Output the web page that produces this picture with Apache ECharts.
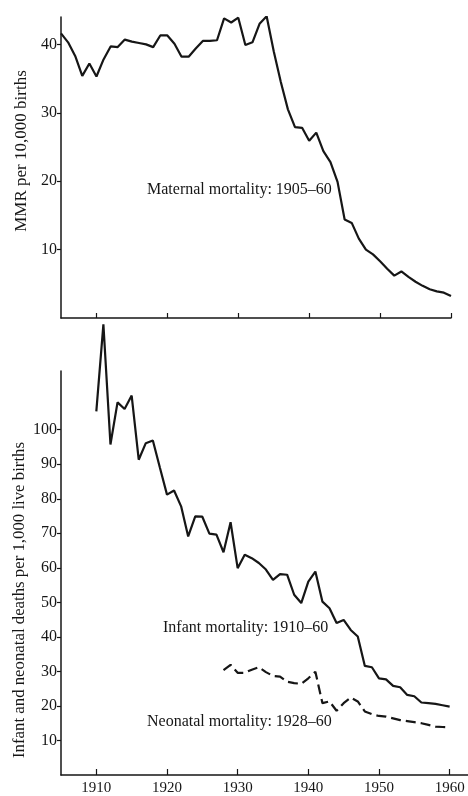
<!DOCTYPE html>
<html>
<head>
<meta charset="utf-8">
<script src="https://cdn.jsdelivr.net/npm/echarts@6/dist/echarts.min.js"></script>
<style>
html, body { margin: 0; padding: 0; background: #fff; }
#chart { width: 468px; height: 796px; }
</style>
</head>
<body>
<div id="chart"></div>
<script>
// 孕产妇死亡率 per 10,000 births, 1905-60
var maternalYears = [1905, 1906, 1907, 1908, 1909, 1910, 1911, 1912, 1913, 1914,
  1915, 1916, 1917, 1918, 1919, 1920, 1921, 1922, 1923, 1924,
  1925, 1926, 1927, 1928, 1929, 1930, 1931, 1932, 1933, 1934,
  1935, 1936, 1937, 1938, 1939, 1940, 1941, 1942, 1943, 1944,
  1945, 1946, 1947, 1948, 1949, 1950, 1951, 1952, 1953, 1954,
  1955, 1956, 1957, 1958, 1959, 1960];
var maternalRate = [41.6, 40.3, 38.3, 35.4, 37.2, 35.3, 37.8, 39.7, 39.6, 40.7,
  40.4, 40.2, 40.0, 39.6, 41.3, 41.3, 40.1, 38.2, 38.2, 39.4,
  40.5, 40.5, 40.6, 43.8, 43.2, 43.9, 39.9, 40.3, 43.0, 44.1,
  39.0, 34.5, 30.5, 27.9, 27.8, 25.9, 27.1, 24.4, 22.8, 19.9,
  14.4, 13.9, 11.6, 10.0, 9.3, 8.3, 7.2, 6.2, 6.8, 6.0,
  5.3, 4.7, 4.2, 3.9, 3.7, 3.2];

// infant deaths per 1,000 live births, 1910-60
var infantYears = [1910, 1911, 1912, 1913, 1914, 1915, 1916, 1917, 1918, 1919,
  1920, 1921, 1922, 1923, 1924, 1925, 1926, 1927, 1928, 1929,
  1930, 1931, 1932, 1933, 1934, 1935, 1936, 1937, 1938, 1939,
  1940, 1941, 1942, 1943, 1944, 1945, 1946, 1947, 1948, 1949,
  1950, 1951, 1952, 1953, 1954, 1955, 1956, 1957, 1958, 1959, 1960];
var infantRate = [105.3, 130.5, 95.7, 107.9, 106.0, 109.9, 91.3, 96.1, 96.9, 89.0,
  81.2, 82.4, 77.8, 69.1, 74.9, 74.8, 69.9, 69.6, 64.5, 73.2,
  59.9, 63.8, 62.8, 61.4, 59.5, 56.5, 58.2, 58.0, 52.2, 49.8,
  56.0, 58.9, 50.2, 48.3, 44.0, 44.9, 42.0, 40.1, 31.6, 31.2,
  28.0, 27.7, 25.8, 25.4, 23.2, 22.8, 21.0, 20.8, 20.6, 20.2, 19.8];

// neonatal deaths per 1,000 live births, 1928-60
var neonatalYears = [1928, 1929, 1930, 1931, 1932, 1933, 1934, 1935, 1936, 1937,
  1938, 1939, 1940, 1941, 1942, 1943, 1944, 1945, 1946, 1947,
  1948, 1949, 1950, 1951, 1952, 1953, 1954, 1955, 1956, 1957,
  1958, 1959, 1960];
var neonatalRate = [30.4, 31.9, 29.6, 29.6, 30.5, 31.2, 29.8, 28.7, 28.5, 27.0,
  26.6, 26.4, 28.0, 29.9, 20.8, 21.3, 18.6, 20.8, 22.4, 21.3,
  18.4, 17.6, 17.1, 16.9, 16.4, 15.9, 15.6, 15.3, 15.0, 14.5,
  14.0, 13.9, 13.8];

var yearTicks = [1910, 1920, 1930, 1940, 1950, 1960];
var mmrTicks = [10, 20, 30, 40];
var infantTicks = [10, 20, 30, 40, 50, 60, 70, 80, 90, 100];

function pairs(xs, ys) {
  return xs.map(function (x, i) { return [x, ys[i]]; });
}

var serif = "'Liberation Serif', 'DejaVu Serif', serif";
var ink = "#161616";

var axisLine = { lineStyle: { color: ink, width: 1.5 } };
function plain(v) { return String(v); } // 不要千分位 1,910

var chart = echarts.init(document.getElementById("chart"));
var option = {
  backgroundColor: "#fff",
  animation: false,
  textStyle: { fontFamily: serif, color: ink },
  grid: [
    { left: 61, right: 17, top: 17, height: 301 },
    { left: 61, right: 0, top: 371, bottom: 21 }
  ],
  xAxis: [
    {
      gridIndex: 0, type: "value", min: 1905, max: 1960,
      axisLine: axisLine,
      axisTick: { inside: true, length: 5, customValues: yearTicks, lineStyle: { color: ink, width: 1.2 } },
      axisLabel: { show: false },
      splitLine: { show: false }
    },
    {
      gridIndex: 1, type: "value", min: 1905, max: 1962.6,
      axisLine: axisLine,
      axisTick: { inside: true, length: 6, customValues: yearTicks, lineStyle: { color: ink, width: 1.2 } },
      axisLabel: { customValues: yearTicks, formatter: plain, fontFamily: serif, fontSize: 15, color: ink, margin: 6 },
      splitLine: { show: false }
    }
  ],
  yAxis: [
    {
      gridIndex: 0, type: "value", min: 0, max: 44,
      axisLine: { show: true, lineStyle: { color: ink, width: 1.5 } },
      axisTick: { show: true, length: 4, customValues: mmrTicks, lineStyle: { color: ink, width: 1.2 } },
      axisLabel: { customValues: mmrTicks, fontFamily: serif, fontSize: 16, color: ink, margin: 4 },
      splitLine: { show: false }
    },
    {
      gridIndex: 1, type: "value", min: 0, max: 117,
      axisLine: { show: true, lineStyle: { color: ink, width: 1.5 } },
      axisTick: { show: true, length: 4, customValues: infantTicks, lineStyle: { color: ink, width: 1.2 } },
      axisLabel: { customValues: infantTicks, fontFamily: serif, fontSize: 16, color: ink, margin: 4 },
      splitLine: { show: false }
    }
  ],
  graphic: [
    { type: "text", x: 22, y: 151, rotation: Math.PI / 2,
      style: { text: "MMR per 10,000 births", font: "17px " + serif, fill: ink, align: "center", verticalAlign: "middle" } },
    { type: "text", x: 20, y: 600, rotation: Math.PI / 2,
      style: { text: "Infant and neonatal deaths per 1,000 live births", font: "16.8px " + serif, fill: ink, align: "center", verticalAlign: "middle" } },
    { type: "text", x: 147, y: 190,
      style: { text: "Maternal mortality: 1905–60", font: "16px " + serif, fill: ink, align: "left", verticalAlign: "middle" } },
    { type: "text", x: 163, y: 628,
      style: { text: "Infant mortality: 1910–60", font: "16px " + serif, fill: ink, align: "left", verticalAlign: "middle" } },
    { type: "text", x: 147, y: 722,
      style: { text: "Neonatal mortality: 1928–60", font: "16px " + serif, fill: ink, align: "left", verticalAlign: "middle" } }
  ],
  series: [
    {
      name: "Maternal mortality", type: "line", xAxisIndex: 0, yAxisIndex: 0,
      data: pairs(maternalYears, maternalRate),
      showSymbol: false, lineStyle: { color: ink, width: 2.2 }
    },
    {
      name: "Infant mortality", type: "line", xAxisIndex: 1, yAxisIndex: 1,
      data: pairs(infantYears, infantRate), clip: false,
      showSymbol: false, lineStyle: { color: ink, width: 2.2 }
    },
    {
      name: "Neonatal mortality", type: "line", xAxisIndex: 1, yAxisIndex: 1,
      data: pairs(neonatalYears, neonatalRate),
      showSymbol: false, lineStyle: { color: ink, width: 2.2, type: [10, 5] }
    }
  ]
};
chart.setOption(option);
</script>
</body>
</html>
